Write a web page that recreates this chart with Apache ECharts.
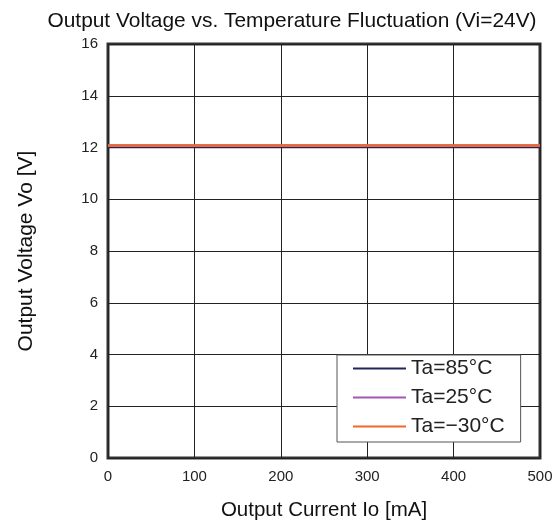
<!DOCTYPE html>
<html>
<head>
<meta charset="utf-8">
<script src="https://cdn.jsdelivr.net/npm/echarts@6/dist/echarts.min.js"></script>
<style>html,body{margin:0;padding:0;background:#fff;}#c{width:559px;height:527px;}</style>
</head>
<body>
<div id="c"></div>
<script>
const currents = [0, 100, 200, 300, 400, 500];
const vo85 = [12.0, 12.0, 12.0, 12.0, 12.0, 12.0];
const vo25 = [12.08, 12.08, 12.08, 12.08, 12.08, 12.08];
const voM30 = [12.08, 12.08, 12.08, 12.08, 12.08, 12.08];
const seriesNames = ['Ta=85°C', 'Ta=25°C', 'Ta=\u221230°C'];
const colors = ['#1f275a', '#a657b3', '#f0682b'];

const chart = echarts.init(document.getElementById('c'));
const font = 'Liberation Sans, Arial, sans-serif';
const mk = (arr) => currents.map((x, i) => [x, arr[i]]);
chart.setOption({
  animation: false,
  backgroundColor: '#fff',
  title: {
    text: 'Output Voltage vs. Temperature Fluctuation (Vi=24V)',
    left: 287, top: 6, textAlign: 'center',
    textStyle: { fontFamily: font, fontSize: 20.9, fontWeight: 'normal', color: '#111' }
  },
  grid: { left: 108, right: 19, top: 44, bottom: 69, show: true, borderColor: '#333', borderWidth: 3 },
  legend: {
    orient: 'vertical', left: 337, top: 355,
    backgroundColor: '#fff', borderColor: '#555', borderWidth: 1,
    padding: [3, 16, 5, 16],
    icon: 'rect', itemWidth: 53, itemHeight: 2, itemGap: 8,
    textStyle: { fontFamily: font, fontSize: 21, color: '#222' },
    data: seriesNames
  },
  xAxis: {
    type: 'value', min: 0, max: 500, interval: 100,
    name: 'Output Current Io [mA]', nameLocation: 'middle', nameGap: 42,
    nameTextStyle: { fontFamily: font, fontSize: 20.5, color: '#111' },
    axisLine: { show: false }, axisTick: { show: false },
    axisLabel: { fontFamily: font, fontSize: 15, color: '#222', margin: 11 },
    splitLine: { show: true, lineStyle: { color: '#222', width: 1 } }
  },
  yAxis: {
    type: 'value', min: 0, max: 16, interval: 2,
    name: 'Output Voltage Vo [V]', nameLocation: 'middle', nameGap: 71,
    nameTextStyle: { fontFamily: font, fontSize: 21, color: '#111' },
    axisLine: { show: false }, axisTick: { show: false },
    axisLabel: { fontFamily: font, fontSize: 15, color: '#222', margin: 10 },
    splitLine: { show: true, lineStyle: { color: '#222', width: 1 } }
  },
  series: [
    { name: seriesNames[0], type: 'line', data: mk(vo85), showSymbol: false, lineStyle: { color: colors[0], width: 1.5 }, itemStyle: { color: colors[0] } },
    { name: seriesNames[1], type: 'line', data: mk(vo25), showSymbol: false, lineStyle: { color: colors[1], width: 2.5 }, itemStyle: { color: colors[1] } },
    { name: seriesNames[2], type: 'line', data: mk(voM30), showSymbol: false, lineStyle: { color: colors[2], width: 2.5 }, itemStyle: { color: colors[2] } }
  ]
});
</script>
</body>
</html>
